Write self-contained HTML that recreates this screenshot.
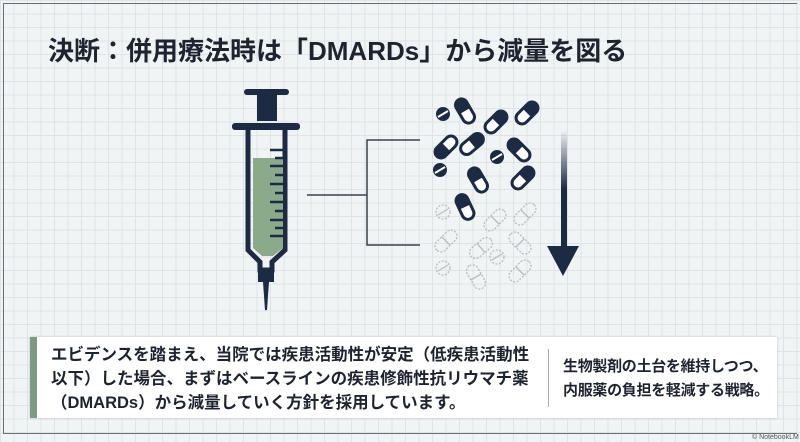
<!DOCTYPE html>
<html><head><meta charset="utf-8"><style>
body{margin:0;width:800px;height:442px;overflow:hidden;background:#eef1f3;font-family:"Liberation Sans","Noto Sans CJK JP",sans-serif;}
.bg{position:absolute;left:0;top:0;width:800px;height:442px;
background-color:#f1f4f5;
background-image:linear-gradient(#dde3e6 1px,transparent 1px),linear-gradient(90deg,#dde3e6 1px,transparent 1px);
background-size:13.5px 13.5px;}
.frame{position:absolute;left:3px;top:3px;width:793px;height:429px;border:1.5px solid #6a6e72;border-right:none;}
h1{position:absolute;left:48px;top:31px;margin:0;font-size:26px;font-weight:bold;color:#1d2430;white-space:nowrap;}
.box{position:absolute;left:30px;top:337px;width:740px;height:81px;background:#fff;border-left:7px solid #7d9a82;box-shadow:0 0 2px #bbb;}
.t1{position:absolute;left:14px;top:6px;font-size:16.5px;font-weight:bold;line-height:24px;color:#1d2430;white-space:nowrap;}
.div{position:absolute;left:511px;top:12px;width:1px;height:58px;background:#aaa;}
.t2{position:absolute;left:526px;top:18px;font-size:15px;font-weight:bold;line-height:24px;color:#1d2430;white-space:nowrap;letter-spacing:-0.3px;}
.nb{position:absolute;left:752px;top:434px;font-size:7px;color:#555;white-space:nowrap;}
</style></head><body>
<div class="bg"></div>
<div class="frame"></div>
<h1>決断：併用療法時は「DMARDs」から減量を図る</h1>
<svg width="800" height="442" style="position:absolute;left:0;top:0">
<defs>
<linearGradient id="ag" x1="0" y1="0" x2="0" y2="1"><stop offset="0" stop-color="#1d2a44" stop-opacity="0"/><stop offset="0.5" stop-color="#1d2a44"/></linearGradient>
<g id="cap"><rect x="-6" y="-13" width="12" height="26" rx="6" fill="#fff" stroke="#1d2a44" stroke-width="3"/><path d="M-6,0 V-7 A6,6 0 0 1 6,-7 V0 Z" fill="#1d2a44"/></g>
<g id="tab"><circle r="7" fill="#1d2a44"/><line x1="-5" y1="3" x2="5" y2="-3" stroke="#fff" stroke-width="2"/></g>
<g id="fcap"><rect x="-6" y="-13" width="12" height="26" rx="6" fill="none" stroke="#b8bcc0" stroke-width="1.3" stroke-dasharray="2 1.5"/><line x1="-6" y1="0" x2="6" y2="0" stroke="#b8bcc0" stroke-width="1.3"/></g>
<g id="ftab"><circle r="7" fill="none" stroke="#b8bcc0" stroke-width="1.3" stroke-dasharray="2 1.5"/><line x1="-5" y1="3" x2="5" y2="-3" stroke="#b8bcc0" stroke-width="1.3"/></g>
</defs>
<rect x="244" y="89" width="45" height="6" rx="3" fill="#1d2a44"/>
<rect x="257" y="93" width="20" height="28" fill="#1d2a44"/>
<rect x="232" y="123" width="68" height="7" rx="3" fill="#1d2a44"/>
<path d="M248,130 V250 L260,262 V270 H272 V262 L285,250 V130" fill="none" stroke="#1d2a44" stroke-width="5"/>
<path d="M253,158 H283 V248 L273,256 H262 L253,248 Z" fill="#8ba98b"/>
<rect x="258" y="268" width="16" height="14" fill="#1d2a44"/>
<path d="M264,282 L266,310 L268,282 Z" fill="#1d2a44" stroke="#1d2a44" stroke-width="2"/>
<g stroke="#1d2a44" stroke-width="2.5">
<line x1="270" y1="150" x2="283" y2="150"/><line x1="275" y1="158" x2="283" y2="158"/><line x1="270" y1="166" x2="283" y2="166"/><line x1="275" y1="175" x2="283" y2="175"/><line x1="270" y1="184" x2="283" y2="184"/><line x1="275" y1="193" x2="283" y2="193"/><line x1="270" y1="202" x2="283" y2="202"/><line x1="275" y1="211" x2="283" y2="211"/><line x1="270" y1="220" x2="283" y2="220"/><line x1="275" y1="228" x2="283" y2="228"/><line x1="270" y1="236" x2="283" y2="236"/>
</g>
<path d="M307,195 H367 M420,140 H367 V245 H420" fill="none" stroke="#3a414c" stroke-width="1.5"/>
<use href="#tab" x="443" y="114"/>
<use href="#cap" transform="translate(465,111) rotate(-30)"/>
<use href="#cap" transform="translate(496,122) rotate(45)"/>
<use href="#cap" transform="translate(527,113) rotate(45)"/>
<use href="#cap" transform="translate(446,147) rotate(-135)"/>
<use href="#cap" transform="translate(472,144) rotate(50)"/>
<use href="#tab" x="497" y="157"/>
<use href="#cap" transform="translate(519,150) rotate(-45)"/>
<use href="#tab" x="440" y="170"/>
<use href="#cap" transform="translate(478,180) rotate(-30)"/>
<use href="#cap" transform="translate(523,178) rotate(45)"/>
<use href="#cap" transform="translate(465,207) rotate(-25)"/>
<use href="#ftab" x="443" y="212"/>
<use href="#fcap" transform="translate(495,220) rotate(45)"/>
<use href="#fcap" transform="translate(525,214) rotate(45)"/>
<use href="#fcap" transform="translate(446,241) rotate(-135)"/>
<use href="#fcap" transform="translate(481,248) rotate(50)"/>
<use href="#fcap" transform="translate(520,243) rotate(-45)"/>
<use href="#ftab" x="497" y="257"/>
<use href="#ftab" x="443" y="268"/>
<use href="#fcap" transform="translate(476,277) rotate(-30)"/>
<use href="#fcap" transform="translate(520,271) rotate(45)"/>
<rect x="561" y="130" width="6" height="118" fill="url(#ag)"/>
<path d="M547,246 H579 L563,276 Z" fill="#1d2a44"/>
</svg>
<div class="box">
<div class="t1">エビデンスを踏まえ、当院では疾患活動性が安定（低疾患活動性<br>以下）した場合、まずはベースラインの疾患修飾性抗リウマチ薬<br>（DMARDs）から減量していく方針を採用しています。</div>
<div class="div"></div>
<div class="t2">生物製剤の土台を維持しつつ、<br>内服薬の負担を軽減する戦略。</div>
</div>
<div class="nb">© NotebookLM</div>
</body></html>
